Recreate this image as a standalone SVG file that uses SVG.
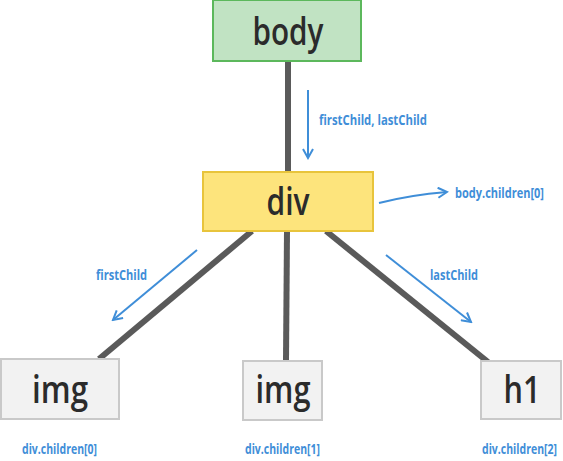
<svg xmlns="http://www.w3.org/2000/svg" width="563" height="461" viewBox="0 0 563 461">
<style>
.box text{font-family:"Open Sans","DejaVu Sans",sans-serif;font-size:38px;font-weight:600;fill:#2b2b2b;text-anchor:middle}
.gray{fill:#f2f2f2;stroke:#c9c9c9;stroke-width:2}
.edge{stroke:#5a5a5a;stroke-width:6;fill:none}
.ptr{stroke:#3f8ed8;stroke-width:2;fill:none;marker-end:url(#ah)}
.lbl{font-family:"Liberation Sans Narrow","Open Sans","DejaVu Sans",sans-serif;font-size:13.5px;font-weight:bold;fill:#3f8ed8}
</style>
<defs>
<marker id="ah" viewBox="0 0 12 12" refX="10" refY="6" markerWidth="12" markerHeight="12" markerUnits="userSpaceOnUse" orient="auto">
<path d="M1,1 L10,6 L1,11" fill="none" stroke="#3f8ed8" stroke-width="2"/>
</marker>
</defs>
<rect width="563" height="461" fill="#fff"/>
<g id="connectors">
<line class="edge" x1="288" y1="61" x2="288" y2="172"/>
<line class="edge" x1="252" y1="231" x2="99" y2="359"/>
<line class="edge" x1="287" y1="231" x2="286" y2="361"/>
<line class="edge" x1="326" y1="231" x2="488" y2="362"/>
<line class="ptr" x1="308" y1="90" x2="308" y2="158"/>
<path class="ptr" d="M379,203 Q410,195 447,192"/>
<line class="ptr" x1="197" y1="250" x2="113" y2="320"/>
<line class="ptr" x1="386" y1="255" x2="471" y2="322"/>
<text class="lbl" x="319" y="125" textLength="108" lengthAdjust="spacingAndGlyphs">firstChild, lastChild</text>
<text class="lbl" x="455" y="198" textLength="89" lengthAdjust="spacingAndGlyphs">body.children[0]</text>
<text class="lbl" x="96" y="280" textLength="51" lengthAdjust="spacingAndGlyphs">firstChild</text>
<text class="lbl" x="430" y="280" textLength="48" lengthAdjust="spacingAndGlyphs">lastChild</text>
<text class="lbl" x="22" y="454" textLength="75" lengthAdjust="spacingAndGlyphs">div.children[0]</text>
<text class="lbl" x="245" y="454" textLength="75" lengthAdjust="spacingAndGlyphs">div.children[1]</text>
<text class="lbl" x="557" y="454" text-anchor="end" textLength="75" lengthAdjust="spacingAndGlyphs">div.children[2]</text>
</g>
<g id="body" class="box">
<rect x="213" y="0" width="148" height="61" fill="#c1e3c3" stroke="#5cb85c" stroke-width="2"/>
<text x="288" y="45" textLength="71" lengthAdjust="spacingAndGlyphs">body</text>
</g>
<g id="div" class="box">
<rect x="203" y="172" width="170" height="59" fill="#fde47c" stroke="#e8c43c" stroke-width="2"/>
<text x="288" y="215" textLength="43" lengthAdjust="spacingAndGlyphs">div</text>
</g>
<g id="img1" class="box">
<rect class="gray" x="1" y="359" width="118" height="60"/>
<text x="60" y="403" textLength="56" lengthAdjust="spacingAndGlyphs">img</text>
</g>
<g id="img2" class="box">
<rect class="gray" x="243" y="361" width="79" height="59"/>
<text x="283" y="403" textLength="55" lengthAdjust="spacingAndGlyphs">img</text>
</g>
<g id="h1" class="box">
<rect class="gray" x="481" y="361" width="80" height="58"/>
<text x="522" y="403" textLength="37" lengthAdjust="spacingAndGlyphs">h1</text>
</g>
</svg>
